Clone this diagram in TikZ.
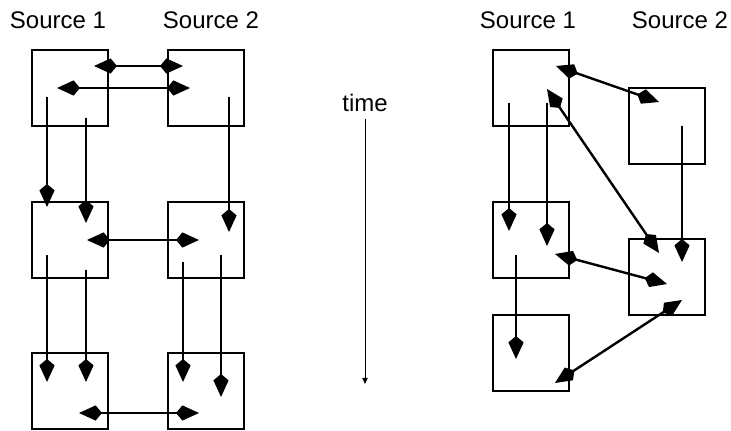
\documentclass[tikz,border=0pt]{standalone}
\usepackage{fontspec}
\setmainfont{Liberation Sans}
\usetikzlibrary{arrows.meta}

\begin{document}
\begin{tikzpicture}[x=0.5pt,y=-0.5pt,
  >={Kite[length=11.5pt,width=7.6pt,inset=3.2pt]},
  srcbox/.style={draw,line width=1.3pt,minimum size=38pt,inner sep=0pt},
  flow/.style={line width=1.2pt,->},
  msg/.style={line width=1.2pt,<->},
  lbl/.style={font=\fontsize{12}{14}\selectfont}]
\useasboundingbox (0,0) rectangle (731,431);
\foreach \n/\x/\y in {a1/70/88,a2/70/240,a3/70/391,b1/206/88,b2/206/240,b3/206/391,
  c1/531/88,c2/531/240,c3/531/353,d1/667/126,d2/667/277}{
  \node[srcbox] (\n) at (\x,\y) {};
}
\node[lbl] (srcA) at (58,20) {Source 1};
\node[lbl] (srcB) at (211,20) {Source 2};
\node[lbl] (srcC) at (528,20) {Source 1};
\node[lbl] (srcD) at (680,20) {Source 2};
\draw[msg] ([shift={(24,-22)}]a1.center) -- ([shift={(-23,-22)}]b1.center);
\draw[msg] ([shift={(-13,0)}]a1.center) -- ([shift={(-16,0)}]b1.center);
\draw[flow] ([shift={(-23,9)}]a1.center) -- ([shift={(-23,-33)}]a2.center);
\draw[flow] ([shift={(16,30)}]a1.center) -- ([shift={(16,-17)}]a2.center);
\draw[flow] ([shift={(23,9)}]b1.center) -- ([shift={(23,-8)}]b2.center);
\draw[msg] ([shift={(17,0)}]a2.center) -- ([shift={(-7,0)}]b2.center);
\draw[flow] ([shift={(-23,15)}]a2.center) -- ([shift={(-23,-9)}]a3.center);
\draw[flow] ([shift={(16,30)}]a2.center) -- ([shift={(16,-9)}]a3.center);
\draw[flow] ([shift={(-23,22)}]b2.center) -- ([shift={(-23,-9)}]b3.center);
\draw[flow] ([shift={(15,15)}]b2.center) -- ([shift={(15,6)}]b3.center);
\draw[msg] ([shift={(9,22)}]a3.center) -- ([shift={(-7,22)}]b3.center);
\node[lbl] (time) at (365,103) {time};
\coordinate (tend) at (365,384);
\draw[line width=0.5pt,-{Triangle[length=3pt,width=2.6pt]}] (time.south) -- (tend);
\draw[msg] ([shift={(25,-22)}]c1.center) -- ([shift={(-8,-24)}]d1.center);
\draw[msg] ([shift={(16,1)}]c1.center) -- ([shift={(-8,-24)}]d2.center);
\draw[flow] ([shift={(-22,15)}]c1.center) -- ([shift={(-22,-9)}]c2.center);
\draw[flow] ([shift={(16,15)}]c1.center) -- ([shift={(16,6)}]c2.center);
\draw[flow] ([shift={(15,0)}]d1.center) -- ([shift={(15,-15)}]d2.center);
\draw[msg] ([shift={(24,14)}]c2.center) -- ([shift={(0,7)}]d2.center);
\draw[flow] ([shift={(-15,15)}]c2.center) -- ([shift={(-15,6)}]c3.center);
\draw[msg] ([shift={(15,23)}]d2.center) -- ([shift={(24,30)}]c3.center);
\end{tikzpicture}
\end{document}
